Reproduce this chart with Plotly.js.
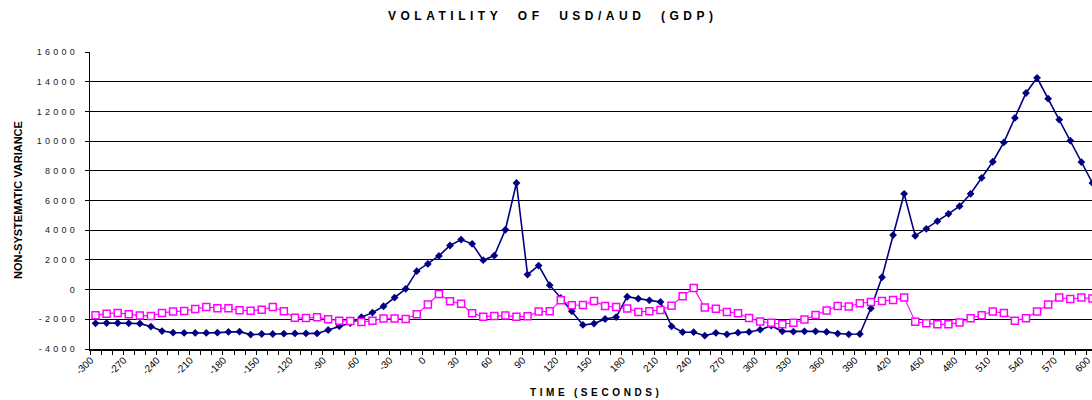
<!DOCTYPE html>
<html><head><meta charset="utf-8">
<script src="https://cdn.plot.ly/plotly-3.0.1.min.js"></script>
<style>html,body{margin:0;padding:0;overflow:hidden;background:#fff}#chart{width:1098px;height:400px}</style>
</head><body><div id="chart"></div><script>
const timeSeconds = [-300,-290,-280,-270,-260,-250,-240,-230,-220,-210,-200,-190,-180,-170,-160,-150,-140,-130,-120,-110,-100,-90,-80,-70,-60,-50,-40,-30,-20,-10,0,10,20,30,40,50,60,70,80,90,100,110,120,130,140,150,160,170,180,190,200,210,220,230,240,250,260,270,280,290,300,310,320,330,340,350,360,370,380,390,400,410,420,430,440,450,460,470,480,490,500,510,520,530,540,550,560,570,580,590,600];
const usdAudVariance = [-2270,-2250,-2250,-2270,-2290,-2490,-2790,-2900,-2920,-2920,-2920,-2900,-2850,-2830,-3030,-2990,-2990,-2970,-2950,-2950,-2950,-2720,-2460,-2250,-1860,-1550,-1120,-540,50,1240,1730,2270,2970,3370,3080,1980,2290,4030,7180,1010,1620,300,-560,-1460,-2380,-2290,-1980,-1850,-480,-610,-720,-830,-2470,-2870,-2870,-3100,-2920,-3010,-2900,-2850,-2700,-2430,-2810,-2830,-2810,-2810,-2850,-2960,-3010,-2990,-1260,830,3670,6450,3620,4090,4610,5100,5620,6450,7530,8610,9910,11560,13240,14260,12860,11440,10030,8590,7180];
const secondVariance = [-1730,-1620,-1570,-1660,-1750,-1780,-1570,-1480,-1440,-1300,-1170,-1260,-1260,-1390,-1420,-1350,-1170,-1460,-1890,-1910,-1870,-2000,-2090,-2110,-2180,-2090,-1950,-1950,-1980,-1660,-1010,-290,-790,-960,-1590,-1820,-1770,-1750,-1820,-1800,-1480,-1460,-720,-1050,-1040,-760,-1100,-1180,-1280,-1510,-1450,-1380,-1090,-440,100,-1200,-1290,-1500,-1590,-1910,-2150,-2240,-2330,-2240,-2020,-1710,-1410,-1100,-1140,-920,-830,-760,-700,-540,-2160,-2270,-2340,-2340,-2220,-1930,-1730,-1480,-1570,-2090,-1930,-1480,-1010,-540,-630,-540,-600];
const xTickValues = [-300,-270,-240,-210,-180,-150,-120,-90,-60,-30,0,30,60,90,120,150,180,210,240,270,300,330,360,390,420,450,480,510,540,570,600];
const yTickValues = [-4000,-2000,0,2000,4000,6000,8000,10000,12000,14000,16000];
const chartTitle = 'VOLATILITY OF USD/AUD (GDP)';
const xAxisTitle = 'TIME (SECONDS)';
const yAxisTitle = 'NON-SYSTEMATIC VARIANCE';

function spaced(s, intra, inter) {
  return s.split(' ').map(w => Array.from(w).join(intra)).join(inter);
}
const NB = '\u00A0', HS = '\u200A';
const FONT = '"Liberation Sans", Arial, sans-serif';

const traces = [
  {x: timeSeconds, y: usdAudVariance, type: 'scatter', mode: 'lines+markers',
   line: {color: '#000080', width: 1.6},
   marker: {symbol: 'diamond', size: 6, color: '#000080', line: {width: 0}},
   cliponaxis: false, showlegend: false},
  {x: timeSeconds, y: secondVariance, type: 'scatter', mode: 'lines+markers',
   line: {color: '#FF00FF', width: 1.1},
   marker: {symbol: 'square', size: 7, color: '#FFFFFF', line: {color: '#FF00FF', width: 1.5}},
   cliponaxis: false, showlegend: false}
];

const layout = {
  width: 1098, height: 400,
  margin: {l: 90, r: 0, t: 52, b: 51},
  paper_bgcolor: '#fff', plot_bgcolor: '#fff',
  font: {family: FONT, color: '#000'},
  title: {text: chartTitle.split(' ').join(NB + NB),
          font: {family: FONT, size: 12, weight: 'bold', color: '#000'},
          xref: 'container', x: 552.75/1098, xanchor: 'center',
          yref: 'container', y: 1 - 16/400, yanchor: 'middle'},
  xaxis: {
    range: [-305, 605], showgrid: false, zeroline: false,
    showline: true, linecolor: '#000', linewidth: 1.5,
    tickmode: 'array', tickvals: xTickValues, ticktext: xTickValues.map(String),
    ticks: '', tickangle: -45, tickfont: {family: FONT, size: 10, color: '#000'},
    ticklabelshift: -5,
    minor: {tick0: -305, dtick: 10, ticks: 'outside', ticklen: 4, tickwidth: 1, tickcolor: '#000', showgrid: false}
  },
  yaxis: {
    range: [-4000, 16000], zeroline: false,
    showgrid: true, gridcolor: '#000', gridwidth: 1,
    showline: true, linecolor: '#000', linewidth: 1.5,
    tickmode: 'array', tickvals: yTickValues,
    ticktext: yTickValues.map(v => spaced(String(v), NB + HS, NB)),
    ticks: 'outside', ticklen: 4, tickcolor: '#000', tickwidth: 1,
    tickfont: {family: FONT, size: 9, color: '#222'},
    ticklabelstandoff: 8
  },
  annotations: [
    {text: spaced(xAxisTitle, NB + HS, NB + NB + NB + HS), xref: 'paper', yref: 'paper',
     x: 0.5, y: (349 - 392) / 297, xanchor: 'center', yanchor: 'middle', showarrow: false,
     font: {family: FONT, size: 10, weight: 'bold', color: '#000'}},
    {text: yAxisTitle, xref: 'paper', yref: 'paper', textangle: -90,
     x: (17.5 - 90) / 1008, y: (349 - 200.5) / 297, xanchor: 'center', yanchor: 'middle', showarrow: false,
     font: {family: '"Liberation Sans Narrow", "Arial Narrow", ' + FONT, size: 11, weight: 'bold', color: '#000'}}
  ]
};

Plotly.newPlot('chart', traces, layout, {displayModeBar: false, staticPlot: true}).then(gd => {
  gd.querySelectorAll('.gtitle').forEach(t => { t.style.letterSpacing = '4.5px'; });
});
</script></body></html>
